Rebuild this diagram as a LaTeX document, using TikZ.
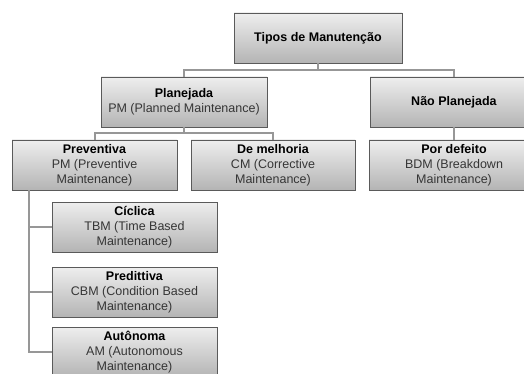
\documentclass[tikz,border=0pt]{standalone}
\usepackage{fontspec}
\setmainfont{Liberation Sans}
\usetikzlibrary{shadows,calc}
\definecolor{boxtop}{HTML}{EEEEEE}
\definecolor{boxbot}{HTML}{B4B4B4}
\definecolor{boxline}{HTML}{5A5A5A}
\definecolor{linkcol}{HTML}{979797}
\definecolor{subtext}{HTML}{363636}
\tikzset{
  box/.style={rectangle, draw=boxline, line width=0.9pt,
    top color=boxtop, bottom color=boxbot,
    minimum height=50pt, inner sep=2pt, align=center,
    font=\fontsize{12.5}{15}\selectfont, text=black,
    drop shadow={shadow xshift=1.2pt, shadow yshift=-1.2pt, fill=black, opacity=0.25}},
  link/.style={draw=linkcol, line width=2pt},
}
\newcommand{\ttl}[1]{\textbf{#1}}
\newcommand{\sub}[1]{\textcolor{subtext}{#1}}
\begin{document}
\begin{tikzpicture}[x=1pt, y=-1pt]
  \useasboundingbox (0,0) rectangle (524,374);
  \clip (0,0) rectangle (524,374);

  % level 0
  \node[box, minimum width=168pt] (root) at (318,38) {\ttl{Tipos de Manutenção}};

  % level 1
  \node[box, minimum width=166pt] (plan) at (184,102)
    {\ttl{Planejada}\\\sub{PM (Planned Maintenance)}};
  \node[box, minimum width=168pt] (nplan) at (454,102) {\ttl{Não Planejada}};

  % level 2
  \node[box, minimum width=165pt] (prev) at (94.5,165)
    {\ttl{Preventiva}\\\sub{PM (Preventive}\\\sub{Maintenance)}};
  \node[box, minimum width=164pt] (melh) at (273,165)
    {\ttl{De melhoria}\\\sub{CM (Corrective}\\\sub{Maintenance)}};
  \node[box, minimum width=170pt] (defe) at (454,165)
    {\ttl{Por defeito}\\\sub{BDM (Breakdown}\\\sub{Maintenance)}};

  % level 3, under Preventiva
  \node[box, minimum width=165pt] (cicl) at (134.5,227)
    {\ttl{Cíclica}\\\sub{TBM (Time Based}\\\sub{Maintenance)}};
  \node[box, minimum width=165pt] (pred) at (134.5,292)
    {\ttl{Predittiva}\\\sub{CBM (Condition Based}\\\sub{Maintenance)}};
  \node[box, minimum width=165pt] (auto) at (134.5,352)
    {\ttl{Autônoma}\\\sub{AM (Autonomous}\\\sub{Maintenance)}};

  % connectors
  \coordinate (r1) at (318,70);
  \draw[link] (root.south) -- (r1) -| (plan.north);
  \draw[link] (r1) -| (nplan.north);
  \coordinate (p1) at (184,133.5);
  \draw[link] (plan.south) -- (p1) -| (prev.north);
  \draw[link] (p1) -| (melh.north);
  \draw[link] (nplan.south) -- (defe.north);
  \coordinate (v0) at (29,190);
  \draw[link] (v0) |- (auto.west);
  \draw[link] (v0 |- cicl.west) -- (cicl.west);
  \draw[link] (v0 |- pred.west) -- (pred.west);
\end{tikzpicture}
\end{document}
